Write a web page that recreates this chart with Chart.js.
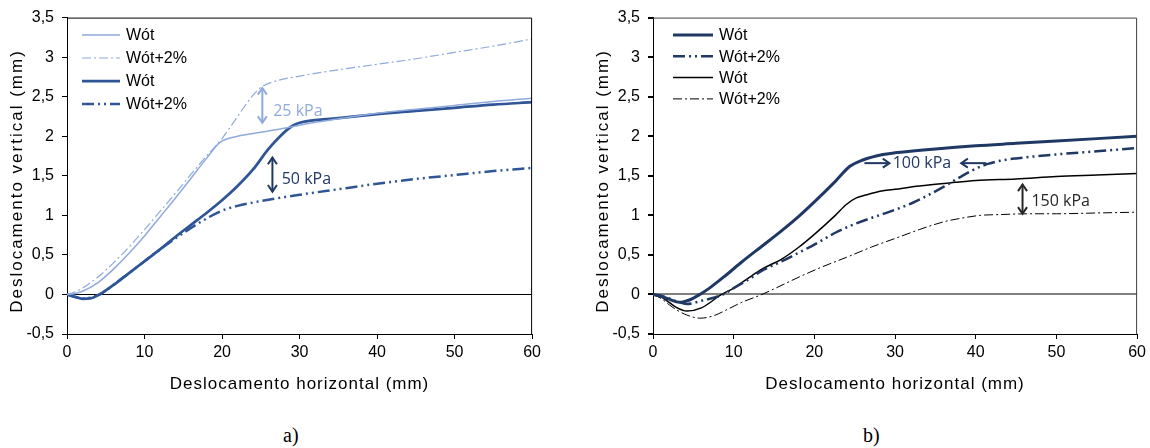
<!DOCTYPE html>
<html lang="pt">
<head>
<meta charset="utf-8">
<title>Deslocamento vertical x horizontal</title>
<script src="https://cdn.jsdelivr.net/npm/chart.js@4.4.0/dist/chart.umd.min.js"></script>
<style>
  body { margin: 0; background: #fff; width: 1150px; height: 448px; position: relative; overflow: hidden; }
  .box { position: absolute; top: 0; height: 400px; }
  #boxA { left: 0; width: 545px; }
  #boxB { left: 586px; width: 564px; }
  .cap { position: absolute; top: 424px; font-family: "Liberation Serif", "Times New Roman", serif; font-size: 20px; color: #000; }
</style>
</head>
<body>
<div class="box" id="boxA"><canvas id="chartA"></canvas></div>
<div class="box" id="boxB"><canvas id="chartB"></canvas></div>
<div class="cap" style="left:283px">a)</div>
<div class="cap" style="left:863px">b)</div>
<script>
  // a) 25 kPa / 50 kPa
  const a25W_x = [0, 1, 2, 4, 6, 8, 10, 12, 14, 16, 18, 19.7, 22, 25, 28, 30, 35, 40, 45, 50, 55, 60];
  const a25W_y = [0, 0.01, 0.04, 0.15, 0.32, 0.52, 0.74, 0.98, 1.22, 1.47, 1.72, 1.92, 2.0, 2.05, 2.1, 2.14, 2.22, 2.29, 2.34, 2.39, 2.44, 2.48];
  const a25W2_x = [0, 1, 2, 4, 6, 8, 10, 12, 14, 16, 18, 20, 22, 24, 25.2, 27, 30, 35, 40, 45, 50, 55, 60];
  const a25W2_y = [0, 0.03, 0.08, 0.22, 0.4, 0.6, 0.82, 1.05, 1.28, 1.52, 1.75, 1.97, 2.25, 2.52, 2.63, 2.7, 2.76, 2.84, 2.91, 2.98, 3.06, 3.14, 3.23];
  const a50W_x = [0, 1, 2, 3, 4.2, 6, 8, 10, 12, 14, 16, 18, 20, 22, 24, 26, 27.5, 28.9, 30, 35, 40, 45, 50, 55, 60];
  const a50W_y = [0, -0.03, -0.055, -0.05, 0, 0.12, 0.27, 0.42, 0.57, 0.73, 0.88, 1.03, 1.19, 1.37, 1.58, 1.84, 2.0, 2.12, 2.17, 2.23, 2.28, 2.32, 2.36, 2.4, 2.43];
  const a50W2_x = [0, 1, 2, 3, 4.2, 6, 8, 10, 12, 14, 16, 18, 20, 22, 25, 30, 35, 40, 45, 50, 55, 60];
  const a50W2_y = [0, -0.03, -0.05, -0.04, 0, 0.12, 0.27, 0.42, 0.57, 0.71, 0.84, 0.96, 1.06, 1.12, 1.18, 1.26, 1.33, 1.4, 1.46, 1.51, 1.56, 1.6];

  // b) 100 kPa / 150 kPa
  const b100W_x = [0, 1, 2, 3.3, 4.5, 5.8, 7, 9, 11, 13.5, 16, 18.1, 20, 22.6, 24.4, 26, 28.5, 30, 35, 40, 45, 50, 55, 60];
  const b100W_y = [0, -0.02, -0.06, -0.1, -0.07, 0, 0.08, 0.24, 0.41, 0.61, 0.81, 0.99, 1.17, 1.43, 1.62, 1.7, 1.77, 1.79, 1.84, 1.88, 1.91, 1.94, 1.97, 2.0];
  const b100W2_x = [0, 1, 2, 3, 4.2, 6, 8.7, 10, 12, 13.5, 16, 18.1, 20, 22.6, 25, 28, 30, 32, 34, 36, 38, 40, 41.5, 43, 45, 50, 55, 60];
  const b100W2_y = [0, -0.02, -0.05, -0.09, -0.12, -0.08, 0, 0.08, 0.2, 0.3, 0.42, 0.53, 0.63, 0.78, 0.89, 1.0, 1.07, 1.15, 1.25, 1.36, 1.48, 1.59, 1.65, 1.69, 1.72, 1.77, 1.81, 1.85];
  const b150W_x = [0, 1, 2, 3, 4.2, 6, 8.5, 10, 12, 13.5, 16, 18.1, 20, 22.6, 24, 25.2, 26.5, 28.5, 30, 33, 36.8, 40, 45, 50, 55, 60];
  const b150W_y = [0, -0.03, -0.1, -0.17, -0.21, -0.17, 0, 0.08, 0.22, 0.32, 0.45, 0.6, 0.76, 1.0, 1.14, 1.22, 1.26, 1.31, 1.33, 1.37, 1.41, 1.44, 1.46, 1.49, 1.51, 1.53];
  const b150W2_x = [0, 1, 2, 3, 4.2, 5.8, 7.5, 9, 11, 13.5, 15, 18.1, 21, 24, 27.1, 30.6, 33, 36.1, 38, 40.6, 43, 47, 50, 55, 60];
  const b150W2_y = [0, -0.05, -0.13, -0.2, -0.26, -0.3, -0.27, -0.2, -0.1, 0, 0.07, 0.22, 0.35, 0.47, 0.6, 0.73, 0.82, 0.92, 0.96, 1.0, 1.01, 1.02, 1.02, 1.03, 1.04];

  const xTicks = [0, 10, 20, 30, 40, 50, 60];
  const yTicks = [-0.5, 0, 0.5, 1, 1.5, 2, 2.5, 3, 3.5];
  const seriesLabels = ['Wót', 'Wót+2%', 'Wót', 'Wót+2%'];
  const xTitle = 'Deslocamento horizontal (mm)';
  const yTitle = 'Deslocamento vertical (mm)';

  const LIGHT = '#8FAADC', BLUE = '#2F5597', NAVY = '#203864', BLACK = '#000000';
  const SANS = '"Liberation Sans", Arial, sans-serif';

  Chart.defaults.font.family = SANS;
  Chart.defaults.font.size = 16;
  Chart.defaults.color = '#000';

  function pts(xs, ys) {
    return xs.map((x, i) => ({ x: x, y: ys[i] }));
  }

  function ds(label, xs, ys, color, width, dash) {
    return {
      label: label, data: pts(xs, ys), borderColor: color, backgroundColor: color,
      borderWidth: width, borderDash: dash, pointRadius: 0, showLine: true,
      cubicInterpolationMode: 'monotone', fill: false
    };
  }

  function comma(v) { return String(v).replace('.', ','); }

  function scales(zeroColor, zeroWidth) {
    return {
      x: {
        type: 'linear', min: 0, max: 60,
        afterBuildTicks: s => { s.ticks = xTicks.map(v => ({ value: v })); },
        ticks: { padding: 4, color: '#000' },
        grid: { drawOnChartArea: false, tickColor: '#000', tickLength: 5 },
        border: { color: '#000', width: 1 },
        afterFit: s => { s.height = 66; }
      },
      y: {
        type: 'linear', min: -0.5, max: 3.5,
        afterBuildTicks: s => { s.ticks = yTicks.map(v => ({ value: v })); },
        ticks: { padding: 8, color: '#000', callback: v => comma(v) },
        grid: {
          color: c => (c.tick && Math.abs(c.tick.value) < 1e-9) ? zeroColor : 'rgba(0,0,0,0)',
          lineWidth: zeroWidth, tickColor: '#000', tickLength: 5
        },
        border: { color: '#000', width: 1 },
        afterFit: s => { s.width = 67; }
      }
    };
  }

  function drawArrow(ctx, x1, y1, x2, y2, both) {
    const head = (tx, ty, fx, fy) => {
      const ang = Math.atan2(ty - fy, tx - fx), L = 8, a = 0.6;
      ctx.beginPath();
      ctx.moveTo(tx - L * Math.cos(ang - a), ty - L * Math.sin(ang - a));
      ctx.lineTo(tx, ty);
      ctx.lineTo(tx - L * Math.cos(ang + a), ty - L * Math.sin(ang + a));
      ctx.stroke();
    };
    ctx.beginPath();
    ctx.moveTo(x1, y1);
    ctx.lineTo(x2, y2);
    ctx.stroke();
    head(x2, y2, x1, y1);
    if (both) head(x1, y1, x2, y2);
  }

  // frame, axis titles, legend inside plot and pressure annotations
  function extras(cfg) {
    return {
      id: 'extras',
      afterDraw(chart) {
        const ctx = chart.ctx, a = chart.chartArea, sx = chart.scales.x, sy = chart.scales.y;
        ctx.save();
        ctx.strokeStyle = cfg.frame;
        ctx.lineWidth = 1;
        ctx.beginPath();
        ctx.moveTo(a.left, a.top + 0.5);
        ctx.lineTo(a.right - 0.5, a.top + 0.5);
        ctx.lineTo(a.right - 0.5, a.bottom);
        ctx.stroke();

        // axis titles (spaced out like the original)
        ctx.fillStyle = '#000';
        ctx.textAlign = 'center';
        ctx.textBaseline = 'middle';
        ctx.font = '17px ' + SANS;
        ctx.letterSpacing = '1px';
        ctx.fillText(xTitle, (a.left + a.right) / 2, 384);
        ctx.save();
        ctx.translate(17.5, 181);
        ctx.rotate(-Math.PI / 2);
        ctx.letterSpacing = '2px';
        ctx.fillText(yTitle, 0, 0);
        ctx.restore();
        ctx.letterSpacing = '0px';

        // legend
        chart.data.datasets.forEach((d, i) => {
          const y = cfg.legY + i * cfg.legGap;
          ctx.strokeStyle = d.borderColor;
          ctx.lineWidth = d.borderWidth;
          ctx.setLineDash(d.borderDash || []);
          ctx.beginPath();
          ctx.moveTo(a.left + cfg.legX, y);
          ctx.lineTo(a.left + cfg.legX + cfg.legLen, y);
          ctx.stroke();
          ctx.setLineDash([]);
          ctx.fillStyle = '#000';
          ctx.font = '16px ' + SANS;
          ctx.textBaseline = 'middle';
          ctx.textAlign = 'left';
          ctx.fillText(d.label, a.left + cfg.legX + cfg.legLen + 6, y + 1);
        });

        // annotations
        cfg.arrows.forEach(r => {
          ctx.strokeStyle = r.color;
          ctx.lineWidth = 2;
          drawArrow(ctx, sx.getPixelForValue(r.x1), sy.getPixelForValue(r.y1),
            sx.getPixelForValue(r.x2), sy.getPixelForValue(r.y2), r.both);
        });
        cfg.notes.forEach(n => {
          ctx.fillStyle = n.color;
          ctx.font = '16px "Open Sans", "Noto Sans", sans-serif';
          ctx.textBaseline = 'middle';
          ctx.textAlign = 'left';
          ctx.fillText(n.text, sx.getPixelForValue(n.x), sy.getPixelForValue(n.y));
        });
        ctx.restore();
      }
    };
  }

  new Chart(document.getElementById('chartA'), {
    type: 'scatter',
    data: {
      datasets: [
        ds(seriesLabels[0], a25W_x, a25W_y, LIGHT, 1.5, []),
        ds(seriesLabels[1], a25W2_x, a25W2_y, LIGHT, 1.2, [9, 3, 2, 3]),
        ds(seriesLabels[2], a50W_x, a50W_y, BLUE, 2.75, []),
        ds(seriesLabels[3], a50W2_x, a50W2_y, BLUE, 2.5, [12, 4, 2, 4, 2, 4])
      ]
    },
    options: {
      responsive: true, maintainAspectRatio: false, animation: false,
      layout: { padding: { top: 17, right: 12, left: 0, bottom: 0 } },
      plugins: { legend: { display: false }, tooltip: { enabled: false } },
      scales: scales('#000', 1)
    },
    plugins: [extras({
      frame: '#000', legX: 15, legLen: 38, legY: 35, legGap: 23,
      arrows: [
        { x1: 25.2, y1: 2.61, x2: 25.2, y2: 2.17, both: true, color: LIGHT },
        { x1: 26.5, y1: 1.73, x2: 26.5, y2: 1.30, both: true, color: NAVY }
      ],
      notes: [
        { text: '25 kPa', x: 26.6, y: 2.32, color: LIGHT },
        { text: '50 kPa', x: 27.7, y: 1.46, color: NAVY }
      ]
    })]
  });

  new Chart(document.getElementById('chartB'), {
    type: 'scatter',
    data: {
      datasets: [
        ds(seriesLabels[0], b100W_x, b100W_y, NAVY, 3, []),
        ds(seriesLabels[1], b100W2_x, b100W2_y, NAVY, 2.5, [12, 4, 2, 4, 2, 4]),
        ds(seriesLabels[2], b150W_x, b150W_y, BLACK, 1.5, []),
        ds(seriesLabels[3], b150W2_x, b150W2_y, BLACK, 1, [9, 3, 2, 3])
      ]
    },
    options: {
      responsive: true, maintainAspectRatio: false, animation: false,
      layout: { padding: { top: 17, right: 12, left: 0, bottom: 0 } },
      plugins: { legend: { display: false }, tooltip: { enabled: false } },
      scales: scales('#808080', 2)
    },
    plugins: [extras({
      frame: '#404040', legX: 20, legLen: 40, legY: 35, legGap: 21.3,
      arrows: [
        { x1: 26.2, y1: 1.66, x2: 29.3, y2: 1.66, both: false, color: NAVY },
        { x1: 41.3, y1: 1.66, x2: 38.2, y2: 1.66, both: false, color: NAVY },
        { x1: 45.8, y1: 1.39, x2: 45.8, y2: 1.02, both: true, color: '#262626' }
      ],
      notes: [
        { text: '100 kPa', x: 29.7, y: 1.65, color: NAVY },
        { text: '150 kPa', x: 46.9, y: 1.18, color: '#262626' }
      ]
    })]
  });
</script>
</body>
</html>
